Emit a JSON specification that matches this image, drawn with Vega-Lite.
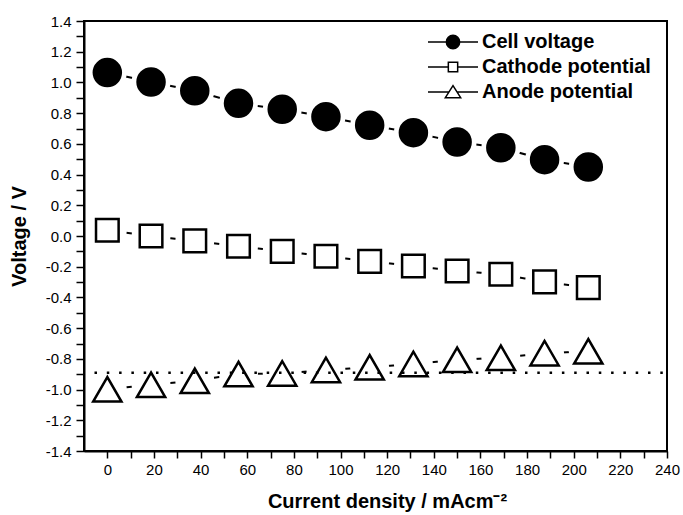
{
  "$schema": "https://vega.github.io/schema/vega-lite/v6.json",
  "width": 583,
  "height": 430,
  "autosize": {"type": "none"},
  "padding": {"left": 84, "top": 21, "right": 16, "bottom": 64},
  "background": "white",
  "config": {
    "view": {"stroke": "black", "strokeWidth": 2},
    "font": "Liberation Sans"
  },
  "datasets": {
    "pts": [
      {"series": "Cell voltage", "j": 0, "v": 1.064},
      {"series": "Cell voltage", "j": 18.75, "v": 1.003},
      {"series": "Cell voltage", "j": 37.5, "v": 0.946},
      {"series": "Cell voltage", "j": 56.25, "v": 0.864},
      {"series": "Cell voltage", "j": 75, "v": 0.825},
      {"series": "Cell voltage", "j": 93.75, "v": 0.777},
      {"series": "Cell voltage", "j": 112.5, "v": 0.721},
      {"series": "Cell voltage", "j": 131.25, "v": 0.673},
      {"series": "Cell voltage", "j": 150, "v": 0.612},
      {"series": "Cell voltage", "j": 168.75, "v": 0.575},
      {"series": "Cell voltage", "j": 187.5, "v": 0.497},
      {"series": "Cell voltage", "j": 206.25, "v": 0.449},
      {"series": "Cathode potential", "j": 0, "v": 0.037},
      {"series": "Cathode potential", "j": 18.75, "v": 0.0},
      {"series": "Cathode potential", "j": 37.5, "v": -0.032},
      {"series": "Cathode potential", "j": 56.25, "v": -0.067},
      {"series": "Cathode potential", "j": 75, "v": -0.1},
      {"series": "Cathode potential", "j": 93.75, "v": -0.132},
      {"series": "Cathode potential", "j": 112.5, "v": -0.165},
      {"series": "Cathode potential", "j": 131.25, "v": -0.195},
      {"series": "Cathode potential", "j": 150, "v": -0.228},
      {"series": "Cathode potential", "j": 168.75, "v": -0.249},
      {"series": "Cathode potential", "j": 187.5, "v": -0.299},
      {"series": "Cathode potential", "j": 206.25, "v": -0.336},
      {"series": "Anode potential", "j": 0, "v": -0.998},
      {"series": "Anode potential", "j": 18.75, "v": -0.969},
      {"series": "Anode potential", "j": 37.5, "v": -0.943},
      {"series": "Anode potential", "j": 56.25, "v": -0.899},
      {"series": "Anode potential", "j": 75, "v": -0.895},
      {"series": "Anode potential", "j": 93.75, "v": -0.872},
      {"series": "Anode potential", "j": 112.5, "v": -0.855},
      {"series": "Anode potential", "j": 131.25, "v": -0.833},
      {"series": "Anode potential", "j": 150, "v": -0.806},
      {"series": "Anode potential", "j": 168.75, "v": -0.793},
      {"series": "Anode potential", "j": 187.5, "v": -0.763},
      {"series": "Anode potential", "j": 206.25, "v": -0.751}
    ],
    "ref": [{"v": -0.89, "j": -5.5, "j2": 240}]
  },
  "encoding": {
    "x": {"field": "j", "type": "quantitative", "scale": {"domain": [-10, 240], "nice": false, "zero": false},
      "axis": {"values": [0,10,20,30,40,50,60,70,80,90,100,110,120,130,140,150,160,170,180,190,200,210,220,230,240],
        "grid": false, "domainColor": "black", "domainWidth": 2, "ticks": true, "tickColor": "black", "tickWidth": 1.5, "tickSize": 7,
        "labelColor": "black", "labelFont": "Liberation Sans", "labelFontSize": 15, "labelOverlap": false, "labelFlush": false, "labelBound": false,
        "titleFont": "Liberation Sans", "titleFontSize": 20, "titleFontWeight": "bold", "titleColor": "black",
        "labelExpr": "datum.value % 20 === 0 ? datum.label : ''",
        "labelPadding": 4, "titlePadding": 14, "titleX": 303, "title": "Current density / mAcm⁻²",
        "encode": {"ticks": {"y2": {"condition": {"test": "datum.value % 20 === 0", "value": 7}, "value": 4}}}}},
    "y": {"field": "v", "type": "quantitative", "scale": {"domain": [-1.4, 1.4], "nice": false, "zero": false},
      "axis": {"values": [-1.4,-1.3,-1.2,-1.1,-1.0,-0.9,-0.8,-0.7,-0.6,-0.5,-0.4,-0.3,-0.2,-0.1,0,0.1,0.2,0.3,0.4,0.5,0.6,0.7,0.8,0.9,1.0,1.1,1.2,1.3,1.4],
        "grid": false, "domainColor": "black", "domainWidth": 2, "ticks": true, "tickColor": "black", "tickWidth": 1.5, "tickSize": 8,
        "labelColor": "black", "labelFont": "Liberation Sans", "labelFontSize": 15, "labelOverlap": false, "labelFlush": false, "labelBound": false,
        "titleFont": "Liberation Sans", "titleFontSize": 20, "titleFontWeight": "bold", "titleColor": "black",
        "labelExpr": "abs(round(datum.value*10)) % 2 === 0 ? (datum.value < -0.001 ? '-' : '') + format(abs(datum.value), '.1f') : ''",
        "labelPadding": 5, "titlePadding": 16, "title": "Voltage / V",
        "encode": {"ticks": {"x2": {"condition": {"test": "abs(round(datum.value*10)) % 2 === 0", "value": -8}, "value": -4}}}}}
  },
  "layer": [
    {
      "data": {"name": "pts"},
      "mark": {"type": "line", "color": "black", "strokeWidth": 2},
      "encoding": {
        "detail": {"field": "series", "type": "nominal"}
      }
    },
    {
      "data": {"name": "pts"},
      "mark": {"type": "point", "filled": true, "color": "white", "opacity": 1, "size": 1521, "shape": "circle"},
      "encoding": {}
    },
    {
      "data": {"name": "pts"},
      "transform": [{"filter": "datum.series === 'Cell voltage'"}],
      "mark": {"type": "point", "filled": true, "opacity": 1, "fill": "black", "stroke": "black", "strokeWidth": 2.5, "shape": "circle", "size": 729},
      "encoding": {}
    },
    {
      "data": {"name": "pts"},
      "transform": [{"filter": "datum.series === 'Cathode potential'"}],
      "mark": {"type": "point", "filled": true, "opacity": 1, "fill": "white", "stroke": "black", "strokeWidth": 2.5, "shape": "square", "size": 511},
      "encoding": {}
    },
    {
      "data": {"name": "pts"},
      "transform": [{"filter": "datum.series === 'Anode potential'"}],
      "mark": {"type": "point", "filled": true, "opacity": 1, "fill": "white", "stroke": "black", "strokeWidth": 2.5, "shape": "triangle-up", "size": 800},
      "encoding": {}
    },
    {
      "data": {"name": "pts"},
      "mark": {"type": "point", "filled": true, "opacity": 0, "size": 178, "stroke": "black", "strokeWidth": 2},
      "encoding": {
        "shape": {"field": "series", "type": "nominal",
          "scale": {"domain": ["Cell voltage", "Cathode potential", "Anode potential"],
            "range": ["M-3.75,0H-1M1,0H3.75M-1,0A1,1,0,1,1,1,0A1,1,0,1,1,-1,0Z", "M-3.75,0H-0.7M0.7,0H3.75M-0.7,-0.7H0.7V0.7H-0.7Z", "M-3.75,0H-0.6M0.6,0H3.75M0,-0.95L1.15,0.85H-1.15Z"]},
          "legend": {"title": null, "orient": "none", "legendX": 359, "legendY": 11, "padding": 0,
            "labelFont": "Liberation Sans", "labelFontSize": 20, "labelFontWeight": "bold", "labelColor": "black", "labelLimit": 400,
            "labelOffset": 19, "rowPadding": 5, "symbolSize": 178, "symbolOpacity": 1}},
        "fill": {"field": "series", "type": "nominal",
          "scale": {"domain": ["Cell voltage", "Cathode potential", "Anode potential"], "range": ["black", "white", "white"]},
          "legend": {"title": null, "orient": "none", "legendX": 359, "legendY": 11, "padding": 0,
            "labelFont": "Liberation Sans", "labelFontSize": 20, "labelFontWeight": "bold", "labelColor": "black", "labelLimit": 400,
            "labelOffset": 19, "rowPadding": 5, "symbolSize": 178, "symbolOpacity": 1}}
      }
    },
    {
      "data": {"name": "ref"},
      "mark": {"type": "rule", "color": "black", "strokeWidth": 2.5, "strokeDash": [2.5, 9.8]},
      "encoding": {
        "x2": {"field": "j2"}
      }
    }
  ]
}
